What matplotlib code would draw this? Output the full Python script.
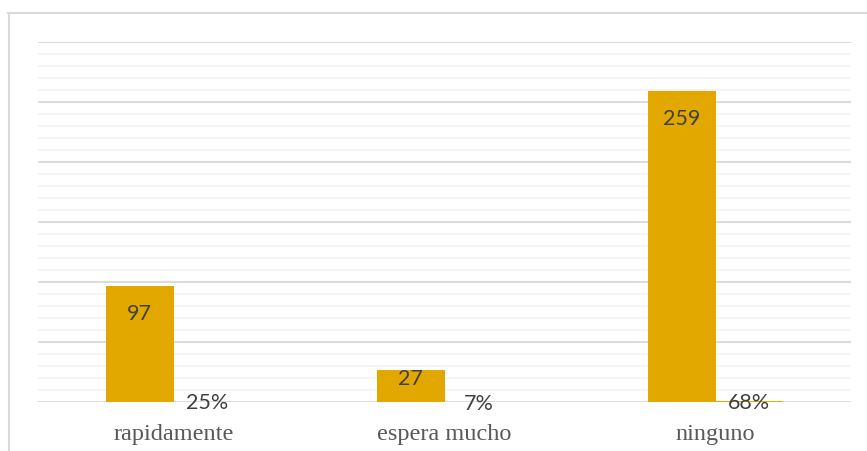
import matplotlib
matplotlib.use('Agg')
import matplotlib.pyplot as plt
from matplotlib.lines import Line2D
import numpy as np

categories = ['rapidamente', 'espera mucho', 'ninguno']
counts = [97, 27, 259]
percents = [0.25, 0.07, 0.68]

bar_color = '#E2A800'
fig = plt.figure(figsize=(8.67, 4.52), dpi=100)
ax = fig.add_axes([38/867, 49/452, (851-38)/867, (403-43)/452])

x = np.arange(len(categories))
w = 0.25
bars = ax.bar(x - w/2, counts, width=w, color=bar_color, zorder=3)
pbars = ax.bar(x + w/2, percents, width=w, color=bar_color, zorder=3)

ax.set_xlim(-0.5, len(categories) - 0.5)
ax.set_ylim(0, 300)

# gridlines like the excel chart
ax.set_yticks(np.arange(0, 301, 50))
ax.set_yticks(np.arange(0, 301, 10), minor=True)
ax.grid(axis='y', which='minor', color='#f2f2f2', lw=1.2, zorder=0)
ax.grid(axis='y', which='major', color='#d9d9d9', lw=1.3, zorder=1)
ax.tick_params(axis='y', which='both', left=False, labelleft=False)
for s in ax.spines.values():
    s.set_visible(False)

ax.set_xticks(x)
ax.set_xticklabels(categories, family='Liberation Serif', fontsize=17.5, color='#595959')
ax.tick_params(axis='x', length=0, pad=15)

for b, v in zip(bars, counts):
    ax.text(b.get_x() + b.get_width()/2, v - min(22.5, 0.25*v), str(v),
            ha='center', va='center', family='Lato', fontsize=15.5, color='#404040', zorder=4)
for b, p in zip(pbars, percents):
    ax.text(b.get_x() + b.get_width()/2, p - 0.5, '{:.0%}'.format(p),
            ha='center', va='center', family='Lato', fontsize=15.5, color='#404040', zorder=4)

# outer chart frame
fig.add_artist(Line2D([8/867, 1], [1 - 13.5/452]*2, color='#d9d9d9', lw=1.5, transform=fig.transFigure))
fig.add_artist(Line2D([8.5/867]*2, [0, 1 - 13.5/452], color='#d9d9d9', lw=1.5, transform=fig.transFigure))

fig.savefig('out.png', dpi=100)
